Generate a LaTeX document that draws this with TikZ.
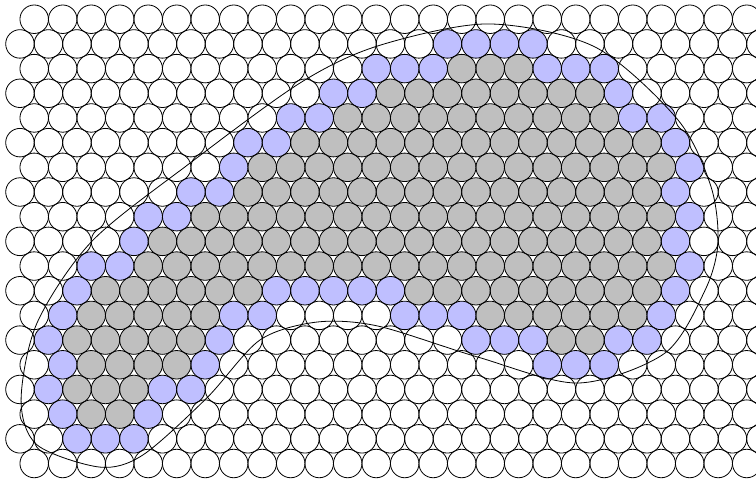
\documentclass[tikz,border=0pt]{standalone}
\usepackage{xcolor}
\usepackage{tikz}
\tikzset{
  cell/.style   = {draw=black, line width=0.8pt},
  inner/.style  = {fill=gray!50},
  rim/.style    = {fill=blue!25},
  region/.style = {draw=black, line width=0.8pt}
}
% fill cells #2..#3 of row #1 with style #4
\newcommand{\paintrow}[4]{%
  \foreach \k in {#2,...,#3}{
    \pgfmathsetmacro{\cx}{1.2-0.5*mod(#1,2)+\k}
    \pgfmathsetmacro{\cy}{-0.675-0.866*#1}
    \fill[#4] (\cx,\cy) circle (0.5);
  }}

\begin{document}
\begin{tikzpicture}

\useasboundingbox (0,0) rectangle (26.526,-16.807);
\clip (0,0) rectangle (26.526,-16.807);

%% ── Interior cells ───────────────────────────────────
\foreach \r/\a/\b in {2/15/17, 3/13/20, 4/11/20, 5/10/22, 6/8/22,
                      7/8/22, 8/6/22, 9/5/22, 10/4/22, 11/3/8,
                      11/14/22, 12/2/6, 12/16/21, 13/2/6, 13/19/20,
                      14/2/5, 15/2/4, 16/2/3}
  {\paintrow{\r}{\a}{\b}{inner}}

%% ── Rim cells ────────────────────────────────────────
\foreach \r/\a/\b in {1/15/18, 2/12/14, 2/18/20, 3/11/12, 3/21/21,
                      4/9/10, 4/21/22, 5/8/9, 5/23/23, 6/7/7, 6/23/23,
                      7/6/7, 7/23/23, 8/4/5, 8/23/23, 9/4/4, 9/23/23,
                      10/2/3, 10/23/23, 11/2/2, 11/9/13, 11/23/23,
                      12/1/1, 12/7/8, 12/13/15, 12/22/22,
                      13/1/1, 13/7/7, 13/16/18, 13/21/22,
                      14/1/1, 14/6/6, 14/18/20, 15/1/1, 15/5/6,
                      16/1/1, 16/4/4, 17/2/4}
  {\paintrow{\r}{\a}{\b}{rim}}

%% ── Cell outlines ────────────────────────────────────
\foreach \j in {0,...,18}
  \foreach \k in {0,...,26}{
    \pgfmathsetmacro{\cx}{1.2-0.5*mod(\j,2)+\k}
    \pgfmathsetmacro{\cy}{-0.675-0.866*\j}
    \draw[cell] (\cx,\cy) circle (0.5);
  }

%% ── Region boundary ──────────────────────────────────
\draw[region] plot[smooth cycle] coordinates {
  (17.12,-0.84) (20.88,-1.65) (23.79,-4.21) (24.95,-6.56)
  (25.19,-8.53) (24.74,-10.18) (23.33,-12.39) (20.28,-13.44)
  (16.77,-12.53) (13.26,-11.44) (11.12,-11.30) (9.12,-11.93)
  (7.26,-13.96) (5.02,-15.96) (3.51,-16.39) (1.30,-15.61)
  (0.74,-14.04) (1.30,-11.33) (3.23,-8.46) (6.67,-5.72)
  (10.53,-2.91) (13.26,-1.61)};

\end{tikzpicture}
\end{document}
